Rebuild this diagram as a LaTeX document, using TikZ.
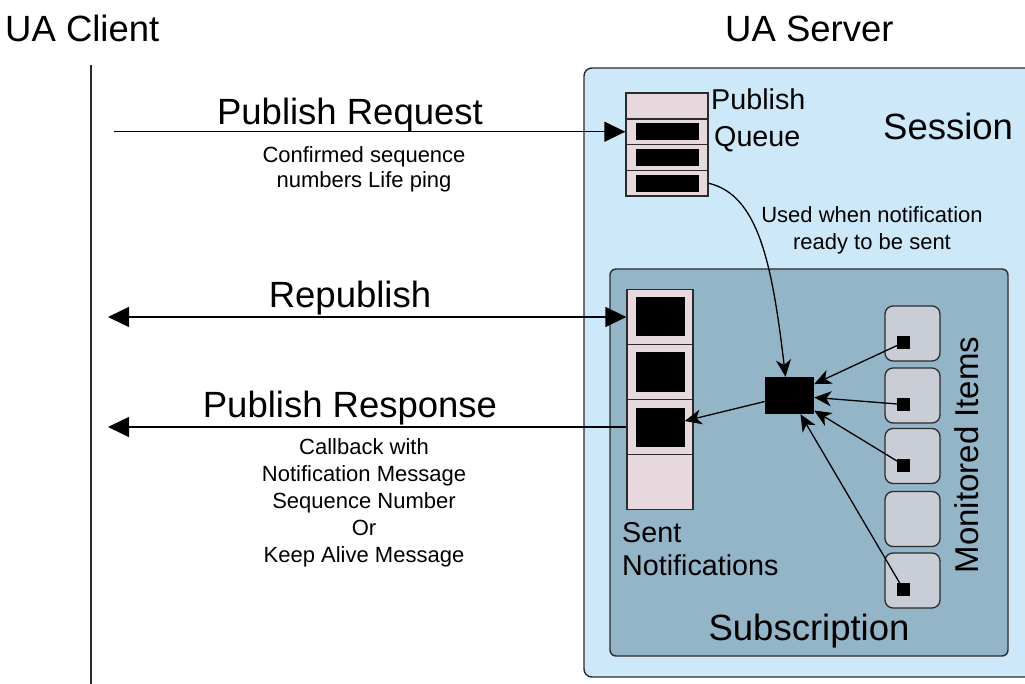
\documentclass[tikz,border=0pt]{standalone}
\usepackage{fontspec}
\setmainfont{Liberation Sans}
\usetikzlibrary{arrows.meta}
\definecolor{sessfill}{HTML}{CDE9F9}
\definecolor{subfill}{HTML}{94B5C7}
\definecolor{cellfill}{HTML}{E6D8DC}
\definecolor{itemfill}{HTML}{C9CDD6}
\definecolor{edge}{HTML}{2B2B2B}
\tikzset{
  big/.style={font=\fontsize{36.5}{41}\selectfont},
  mid/.style={font=\fontsize{28.7}{33}\selectfont},
  small/.style={font=\fontsize{22}{27}\selectfont, align=center},
  qcell/.style={draw=edge, line width=1.3pt, fill=cellfill, minimum width=82pt, minimum height=25.75pt, inner sep=0pt},
  scell/.style={draw=edge, line width=1.3pt, fill=cellfill, minimum width=66pt, minimum height=55pt, inner sep=0pt},
  qbar/.style={fill=black, minimum width=63pt, minimum height=17pt, inner sep=0pt},
  sbar/.style={fill=black, minimum width=49pt, minimum height=39pt, inner sep=0pt},
  mitem/.style={draw=edge, line width=1.3pt, fill=itemfill, rounded corners=8pt, minimum width=55pt, minimum height=55pt, inner sep=0pt},
  mdot/.style={fill=black, minimum width=13pt, minimum height=13pt, inner sep=0pt},
  msg/.style={draw=black, line width=1.4pt, -{Triangle[length=21pt,width=20pt]}},
  flow/.style={draw=black, line width=1.3pt, -{Stealth[length=17pt,width=15pt,inset=5pt]}},
}
\begin{document}
\begin{tikzpicture}[x=1pt,y=-1pt]
\useasboundingbox (0,0) rectangle (1025,684);
\clip (0,0) rectangle (1025,684);
\fill[white] (0,0) rectangle (1025,684);

% headings and client lifeline
\node[big, anchor=base west, inner sep=0pt] (client) at (5,42) {UA Client};
\node[big, anchor=base west, inner sep=0pt] (server) at (725,42) {UA Server};
\draw[edge, line width=1.3pt] (91,65) -- (91,690);

% session and subscription containers
\draw[edge, line width=1.4pt, fill=sessfill, rounded corners=8pt] (584,68) rectangle (1045,677);
\node[big, anchor=base west, inner sep=0pt] (session) at (883,140) {Session};
\draw[edge, line width=1.4pt, fill=subfill, rounded corners=6pt] (610,269) rectangle (1008,656);
\node[big, anchor=base, inner sep=0pt] (subscr) at (809,640) {Subscription};

% publish queue
\foreach \i/\y in {1/106,2/131.75,3/157.5,4/183.25}{
  \node[qcell] (q\i) at (667,\y) {};
}
\foreach \i in {2,3,4}{ \node[qbar] (qb\i) at (q\i) {}; }
\node[mid, anchor=base west, inner sep=0pt] (pq1) at (711,110) {Publish};
\node[mid, anchor=base west, inner sep=0pt] (pq2) at (714,147) {Queue};
\node[small, anchor=base, inner sep=0pt] (used1) at (872,223) {Used when notification};
\node[small, anchor=base, inner sep=0pt] (used2) at (872,250) {ready to be sent};

% sent notifications
\foreach \i/\y in {1/317,2/372,3/427,4/482}{
  \node[scell] (s\i) at (660,\y) {};
}
\foreach \i in {1,2,3}{ \node[sbar] (sb\i) at (s\i) {}; }
\node[mid, anchor=base west, inner sep=0pt] (sent1) at (622,542) {Sent};
\node[mid, anchor=base west, inner sep=0pt] (sent2) at (622,575) {Notifications};

% monitored items
\foreach \i/\y in {1/333.5,2/395.5,3/456,4/519,5/580.5}{
  \node[mitem] (m\i) at (912.5,\y) {};
}
\foreach \i in {1,2,3,5}{ \node[mdot] (d\i) at ([xshift=-9pt,yshift=-9pt]m\i.center) {}; }
\node[font=\fontsize{33}{38}\selectfont, rotate=90, anchor=base, inner sep=0pt] (mon) at (978,455) {Monitored Items};

% notification being assembled
\node[fill=black, minimum width=49pt, minimum height=37pt, inner sep=0pt] (agg) at (789.5,395.5) {};

% flows inside the server
\draw[flow] (q4.east) .. controls (758,195) and (772,262) .. ([xshift=-4pt]agg.north);
\foreach \i in {1,2,3,5}{ \draw[flow] (d\i.center) -- (agg); }
\draw[flow] (agg) -- (sb3);

% client/server messages
\coordinate (c1) at (114,131.75);
\coordinate (c2) at (108,317);
\coordinate (c3) at (108,427);
\draw[msg] (c1) -- (q2.west);
\draw[msg, {Triangle[length=21pt,width=20pt]}-{Triangle[length=21pt,width=20pt]}] (c2) -- (s1.west);
\draw[msg] (s3.west) -- (c3);

\node[big, anchor=base, inner sep=0pt] (preq) at (350,125) {Publish Request};
\node[small, anchor=base, inner sep=0pt] (preq1) at (364,163) {Confirmed sequence};
\node[small, anchor=base, inner sep=0pt] (preq2) at (364,188) {numbers Life ping};
\node[big, anchor=base, inner sep=0pt] (repub) at (350,308) {Republish};
\node[big, anchor=base, inner sep=0pt] (presp) at (350,417) {Publish Response};
\node[small, anchor=north, inner sep=0pt] (presp1) at (364,438) {Callback with\\Notification Message\\Sequence Number\\Or\\Keep Alive Message};
\end{tikzpicture}
\end{document}
